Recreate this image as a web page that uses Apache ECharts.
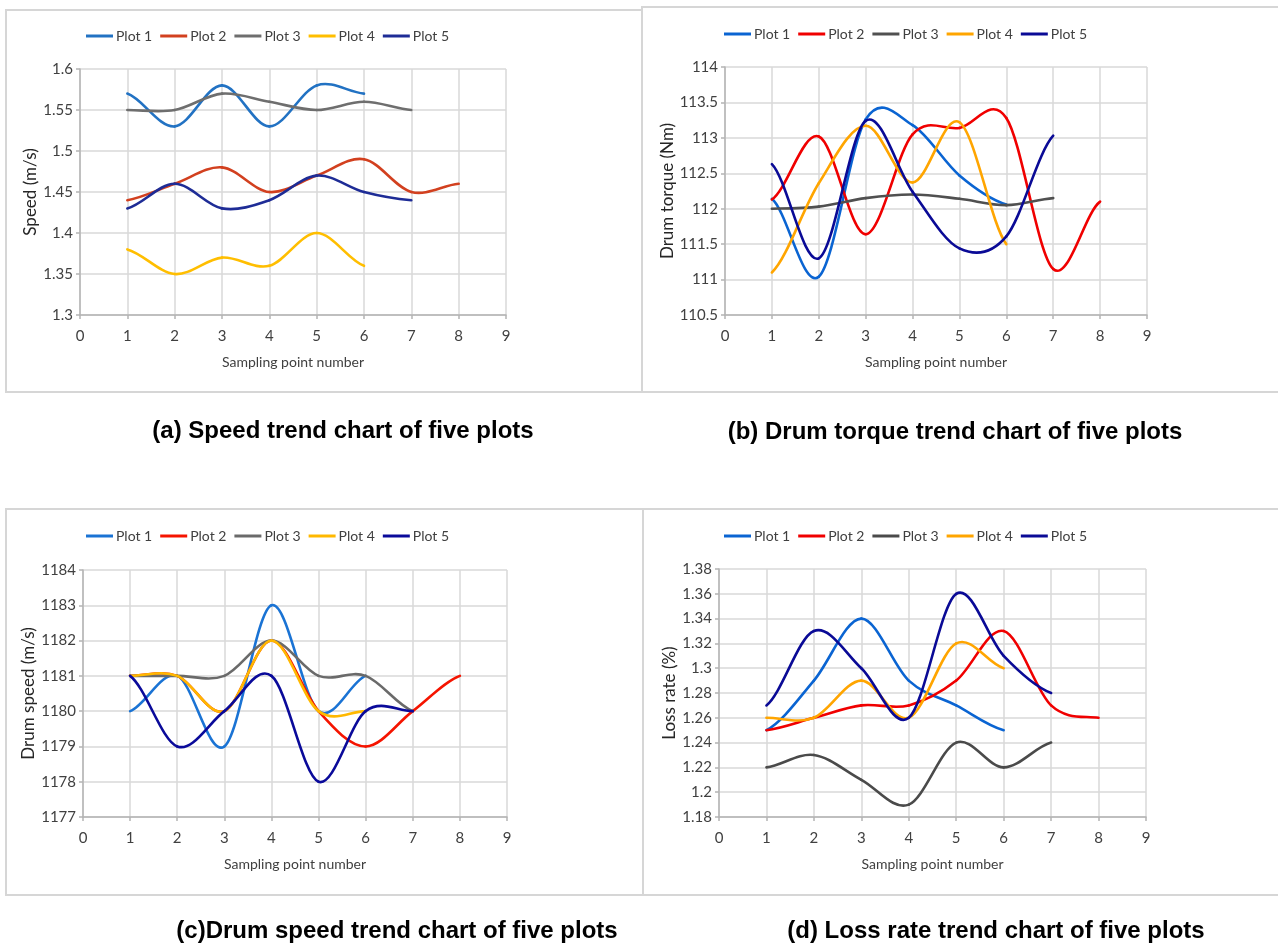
<!DOCTYPE html>
<html>
<head>
<meta charset="utf-8">
<title>Trend charts of five plots</title>
<script src="https://cdn.jsdelivr.net/npm/echarts@6/dist/echarts.min.js"></script>
<style>
  html, body { margin: 0; padding: 0; background: #ffffff; }
  #chart { width: 1278px; height: 947px; }
</style>
</head>
<body>
<div id="chart"></div>
<script>
// Sampling points 1..n on the x axis; each series lists its values in order.
const plotNames = ['Plot 1', 'Plot 2', 'Plot 3', 'Plot 4', 'Plot 5'];
const xTicks = [0, 1, 2, 3, 4, 5, 6, 7, 8, 9];

// (a) Speed (m/s)
const speedPlot1 = [1.57, 1.53, 1.58, 1.53, 1.58, 1.57];
const speedPlot2 = [1.44, 1.46, 1.48, 1.45, 1.47, 1.49, 1.45, 1.46];
const speedPlot3 = [1.55, 1.55, 1.57, 1.56, 1.55, 1.56, 1.55];
const speedPlot4 = [1.38, 1.35, 1.37, 1.36, 1.40, 1.36];
const speedPlot5 = [1.43, 1.46, 1.43, 1.44, 1.47, 1.45, 1.44];
const speedTicks = [1.3, 1.35, 1.4, 1.45, 1.5, 1.55, 1.6];

// (b) Drum torque (Nm)
const torquePlot1 = [112.14, 111.04, 113.26, 113.18, 112.47, 112.06];
const torquePlot2 = [112.13, 113.02, 111.64, 113.05, 113.14, 113.28, 111.15, 112.1];
const torquePlot3 = [112.0, 112.03, 112.15, 112.2, 112.14, 112.05, 112.15];
const torquePlot4 = [111.1, 112.36, 113.17, 112.37, 113.22, 111.5];
const torquePlot5 = [112.63, 111.3, 113.24, 112.24, 111.44, 111.61, 113.03];
const torqueTicks = [110.5, 111, 111.5, 112, 112.5, 113, 113.5, 114];

// (c) Drum speed (m/s)
const drumPlot1 = [1180, 1181, 1179, 1183, 1180, 1181];
const drumPlot2 = [1181, 1181, 1180, 1182, 1180, 1179, 1180, 1181];
const drumPlot3 = [1181, 1181, 1181, 1182, 1181, 1181, 1180];
const drumPlot4 = [1181, 1181, 1180, 1182, 1180, 1180];
const drumPlot5 = [1181, 1179, 1180, 1181, 1178, 1180, 1180];
const drumTicks = [1177, 1178, 1179, 1180, 1181, 1182, 1183, 1184];

// (d) Loss rate (%)
const lossPlot1 = [1.25, 1.29, 1.34, 1.29, 1.27, 1.25];
const lossPlot2 = [1.25, 1.26, 1.27, 1.27, 1.29, 1.33, 1.27, 1.26];
const lossPlot3 = [1.22, 1.23, 1.21, 1.19, 1.24, 1.22, 1.24];
const lossPlot4 = [1.26, 1.26, 1.29, 1.26, 1.32, 1.30];
const lossPlot5 = [1.27, 1.33, 1.30, 1.26, 1.36, 1.31, 1.28];
const lossTicks = [1.18, 1.2, 1.22, 1.24, 1.26, 1.28, 1.3, 1.32, 1.34, 1.36, 1.38];

const captions = [
  '(a) Speed trend chart of five plots',
  '(b) Drum torque trend chart of five plots',
  '(c)Drum speed trend chart of five plots',
  '(d) Loss rate trend chart of five plots'
];

const paletteA = ['#2272C3', '#D2401F', '#6E6E6E', '#FFBE00', '#1E2C96'];
const paletteB = ['#0A64D2', '#F00000', '#505050', '#FFA500', '#0A0A96'];
const paletteC = ['#1A73D4', '#F51400', '#6A6A6A', '#FFB800', '#0A0A9A'];
const paletteD = ['#0A64D2', '#F00000', '#4A4A4A', '#FFA500', '#0A0A96'];

const panels = [
  { box: [6, 10, 636, 382], grid: { left: 80, top: 69, width: 426, height: 246 },
    legend: { left: 86, top: 29 }, yName: 'Speed (m/s)', yGap: 33, ticks: speedTicks,
    series: [speedPlot1, speedPlot2, speedPlot3, speedPlot4, speedPlot5], colors: paletteA,
    caption: { x: 343, y: 431 } },
  { box: [642, 7, 640, 385], grid: { left: 725, top: 67, width: 422, height: 248 },
    legend: { left: 724, top: 27 }, yName: 'Drum torque (Nm)', yGap: 43, ticks: torqueTicks,
    series: [torquePlot1, torquePlot2, torquePlot3, torquePlot4, torquePlot5], colors: paletteB,
    caption: { x: 955, y: 432 } },
  { box: [6, 509, 637, 386], grid: { left: 83, top: 570, width: 424, height: 247 },
    legend: { left: 86, top: 529 }, yName: 'Drum speed (m/s)', yGap: 36, ticks: drumTicks,
    series: [drumPlot1, drumPlot2, drumPlot3, drumPlot4, drumPlot5], colors: paletteC,
    caption: { x: 397, y: 931 } },
  { box: [643, 509, 640, 386], grid: { left: 719, top: 569, width: 427, height: 248 },
    legend: { left: 724, top: 529 }, yName: 'Loss rate (%)', yGap: 35, ticks: lossTicks,
    series: [lossPlot1, lossPlot2, lossPlot3, lossPlot4, lossPlot5], colors: paletteD,
    caption: { x: 996, y: 931 } }
];

const labelFont = 'Lato, "Noto Sans", sans-serif';
const textColor = '#404040';
const gridColor = '#d9d9d9';
const axisColor = '#b4b4b4';

// Smoothed segment between points i and i+1 (Catmull-Rom tangents, 1/6 factor),
// built from the series values converted through the axes.
function makeSmoothRenderer(values, color) {
  return function (params, api) {
    const i = params.dataIndex;
    if (i >= values.length - 1) return null;
    const pt = k => api.coord([k + 1, values[Math.max(0, Math.min(values.length - 1, k))]]);
    const p0 = pt(i - 1), p1 = pt(i), p2 = pt(i + 1), p3 = pt(i + 2);
    return {
      type: 'bezierCurve',
      shape: {
        x1: p1[0], y1: p1[1], x2: p2[0], y2: p2[1],
        cpx1: p1[0] + (p2[0] - p0[0]) / 6, cpy1: p1[1] + (p2[1] - p0[1]) / 6,
        cpx2: p2[0] - (p3[0] - p1[0]) / 6, cpy2: p2[1] - (p3[1] - p1[1]) / 6
      },
      style: { stroke: color, lineWidth: 2.6, fill: null, lineCap: 'round' },
      silent: true
    };
  };
}

const option = {
  backgroundColor: '#ffffff',
  animation: false,
  grid: [], xAxis: [], yAxis: [], legend: [], series: [], graphic: []
};

panels.forEach((p, i) => {
  option.grid.push(Object.assign({ containLabel: false }, p.grid));

  option.xAxis.push({
    type: 'value', gridIndex: i,
    min: xTicks[0], max: xTicks[xTicks.length - 1], interval: 1,
    name: 'Sampling point number', nameLocation: 'middle', nameGap: 40,
    nameTextStyle: { fontFamily: labelFont, fontSize: 14, color: textColor },
    axisLine: { show: true, lineStyle: { color: axisColor, width: 1.5 } },
    axisTick: { show: true, length: 4, lineStyle: { color: axisColor, width: 1.5 } },
    axisLabel: { fontFamily: labelFont, fontSize: 15, color: textColor, margin: 14 },
    splitLine: { show: true, lineStyle: { color: gridColor, width: 1.5 } }
  });

  const tk = p.ticks;
  option.yAxis.push({
    type: 'value', gridIndex: i,
    min: tk[0], max: tk[tk.length - 1], interval: tk[1] - tk[0],
    name: p.yName, nameLocation: 'middle', nameGap: p.yGap,
    nameTextStyle: { fontFamily: labelFont, fontSize: 17, color: '#262626' },
    axisLine: { show: true, lineStyle: { color: axisColor, width: 1.5 } },
    axisTick: { show: true, length: 4, lineStyle: { color: axisColor, width: 1.5 } },
    axisLabel: {
      fontFamily: labelFont, fontSize: 15, color: textColor, margin: 7,
      formatter: v => String(parseFloat(v.toFixed(4)))
    },
    splitLine: { show: true, lineStyle: { color: gridColor, width: 1.5 } }
  });

  option.legend.push({
    left: p.legend.left, top: p.legend.top, orient: 'horizontal', padding: 0,
    itemWidth: 27, itemHeight: 3, itemGap: 8, icon: 'rect',
    textStyle: { fontFamily: labelFont, fontSize: 14, color: textColor, padding: [0, 0, 0, -2] },
    data: plotNames.map((n, k) => ({ name: n + '\u200b'.repeat(i), itemStyle: { color: p.colors[k] } }))
  });

  p.series.forEach((vals, k) => {
    option.series.push({
      type: 'custom', name: plotNames[k] + '\u200b'.repeat(i),
      xAxisIndex: i, yAxisIndex: i,
      data: vals.map((v, j) => [j + 1, v]),
      encode: { x: 0, y: 1 },
      renderItem: makeSmoothRenderer(vals, p.colors[k]),
      itemStyle: { color: p.colors[k] },
      clip: false,
      z: 2 + k
    });
  });

  option.graphic.push({
    type: 'rect', z: -1, silent: true,
    shape: { x: p.box[0], y: p.box[1], width: p.box[2], height: p.box[3] },
    style: { fill: 'none', stroke: '#d6d6d6', lineWidth: 2 }
  });
  option.graphic.push({
    type: 'text', silent: true, x: p.caption.x, y: p.caption.y,
    style: {
      text: captions[i], fill: '#000000', align: 'center', verticalAlign: 'middle',
      font: 'bold 24px "Liberation Sans", Arial, sans-serif'
    }
  });
});

const chart = echarts.init(document.getElementById('chart'), null, { renderer: 'canvas' });
chart.setOption(option);
</script>
</body>
</html>
